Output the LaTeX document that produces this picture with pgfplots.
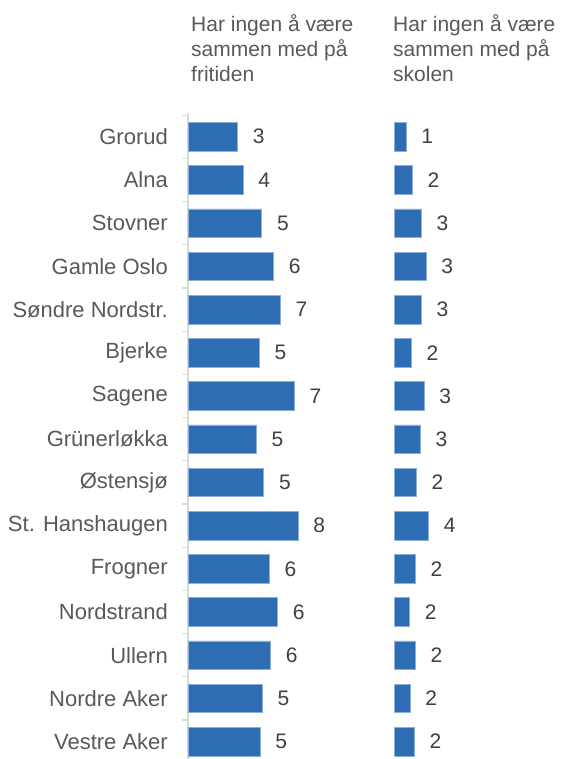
\documentclass[border=0pt]{standalone}
\usepackage{fontspec}
\setmainfont{Liberation Sans}
\usepackage{pgfplots}
\pgfplotsset{compat=1.18}
\usepackage{pgfplotstable}
\definecolor{barblue}{RGB}{46,109,180}
\definecolor{txt}{RGB}{89,89,89}
\definecolor{val}{RGB}{64,64,64}
\definecolor{axgray}{RGB}{217,217,217}

% bar lengths, labels as printed
\pgfplotstableread{
idx fri  frilab sko  skolab
0   3.61 3      1.26 1
1   4.00 4      1.93 2
2   5.36 5      2.87 3
3   6.23 6      3.37 3
4   6.71 7      2.87 3
5   5.19 5      1.82 2
6   7.73 7      3.16 3
7   4.97 5      2.77 3
8   5.51 5      2.35 2
9   8.00 8      3.65 4
10  5.91 6      2.24 2
11  6.52 6      1.65 2
12  6.01 6      2.24 2
13  5.40 5      1.68 2
14  5.24 5      2.14 2
}\data

\pgfplotsset{
  panel/.style={
    y=43.2pt, ymin=-0.55, ymax=14.42, y dir=reverse,
    xmin=0, clip=false,
    xbar, bar width=28.7pt, bar shift=0pt,
    nodes near coords, point meta=explicit symbolic,
    nodes near coords style={anchor=west, inner sep=0pt, xshift=15pt,
      font=\fontsize{21}{24}\selectfont, text=val},
    xtick=\empty,
  },
  bars/.style={fill=barblue, draw=barblue!55!white, line width=0.6pt},
}

\begin{document}
\begin{tikzpicture}
\path[use as bounding box] (0,0) rectangle (561pt,-759pt);

% left panel: fritiden
\begin{axis}[panel,
  anchor=north west, at={(188pt,-113pt)},
  x=13.75pt, xmax=12,
  axis x line=none, axis y line*=left,
  y axis line style={axgray, line width=1.2pt},
  ytick={0,...,14},
  yticklabels={Grorud,Alna,Stovner,Gamle Oslo,Søndre Nordstr.,Bjerke,Sagene,
    Grünerløkka,Østensjø,St. Hanshaugen,Frogner,Nordstrand,Ullern,Nordre Aker,Vestre Aker},
  major tick length=0pt,
  minor ytick={-0.5,0.5,...,13.5},
  minor tick length=6pt, tick align=outside,
  minor tick style={axgray, line width=1.2pt},
  yticklabel style={font=\fontsize{22}{24}\selectfont, text=txt, inner sep=0pt, xshift=-20pt},
]
\addplot[bars] table[x=fri, y=idx, meta=frilab] {\data};
\end{axis}

% right panel: skolen
\begin{axis}[panel,
  anchor=north west, at={(394pt,-113pt)},
  x=9.5pt, xmax=14,
  hide axis,
]
\addplot[bars] table[x=sko, y=idx, meta=skolab] {\data};
\end{axis}

\node[anchor=north west, inner sep=0pt, align=left, text=txt,
  font=\fontsize{21}{25}\selectfont] at (191pt,-14pt)
  {Har ingen å være\\sammen med på\\fritiden};
\node[anchor=north west, inner sep=0pt, align=left, text=txt,
  font=\fontsize{21}{25}\selectfont] at (393pt,-14pt)
  {Har ingen å være\\sammen med på\\skolen};
\end{tikzpicture}
\end{document}
